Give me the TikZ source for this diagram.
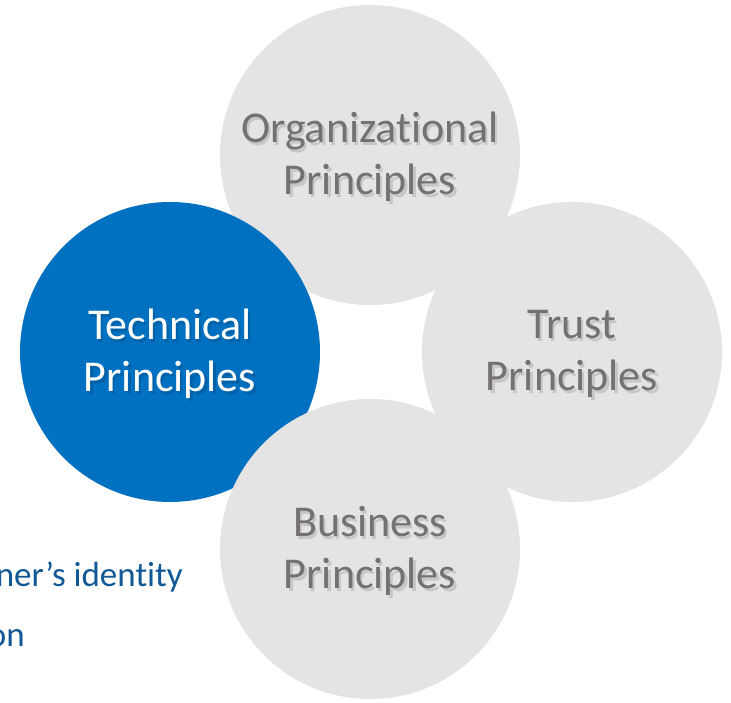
\documentclass[tikz,border=0pt]{standalone}
\usepackage{fontspec}
\setmainfont{Carlito}[Ligatures={NoCommon}]
\definecolor{circgray}{HTML}{E4E4E4}
\definecolor{techblue}{HTML}{0070C0}
\definecolor{labgray}{HTML}{767171}
\definecolor{noteblue}{RGB}{18,88,150}
\newcommand{\nolig}{\kern0pt }
\begin{document}
\begin{tikzpicture}[x=1pt,y=1pt,
  disc/.style={circle, minimum size=300pt, inner sep=0pt, draw=none},
  lab/.style={align=center, font=\fontsize{44}{52}\selectfont},
  labshadow/.style={lab, text=black, opacity=0.13},
  note/.style={font=\fontsize{35}{40}\selectfont, text=noteblue, inner sep=0pt}]
\path[use as bounding box, fill=white] (0,0) rectangle (731,703);
% circles
\node[disc, fill=circgray] (org) at (370,548) {};
\node[disc, fill=techblue] (tech) at (170,351) {};
\node[disc, fill=circgray] (trust) at (572,351) {};
\node[disc, fill=circgray] (bus) at (370,154) {};
% soft label shadows
\foreach \n/\t in {org/{Organizat\nolig ional\\Principles}, tech/{Technical\\Principles}, trust/{Trust\\Principles}, bus/{Business\\Principles}}{
  \node[labshadow] at ([shift={(2.2,-5)}]\n.center) {\t};
}
% labels
\node[lab, text=labgray] (orglab) at ([yshift=-2]org.center) {Organizat\nolig ional\\Principles};
\node[lab, text=white] (techlab) at ([yshift=-2]tech.center) {Technical\\Principles};
\node[lab, text=labgray] (trustlab) at ([yshift=-2]trust.center) {Trust\\Principles};
\node[lab, text=labgray] (buslab) at ([yshift=-2]bus.center) {Business\\Principles};
% partial note text
\node[note, anchor=base east] (note1) at (183,116) {ner’s ident\nolig it\nolig y};
\node[note, anchor=base east] (note2) at (25,56) {on};
\end{tikzpicture}
\end{document}
